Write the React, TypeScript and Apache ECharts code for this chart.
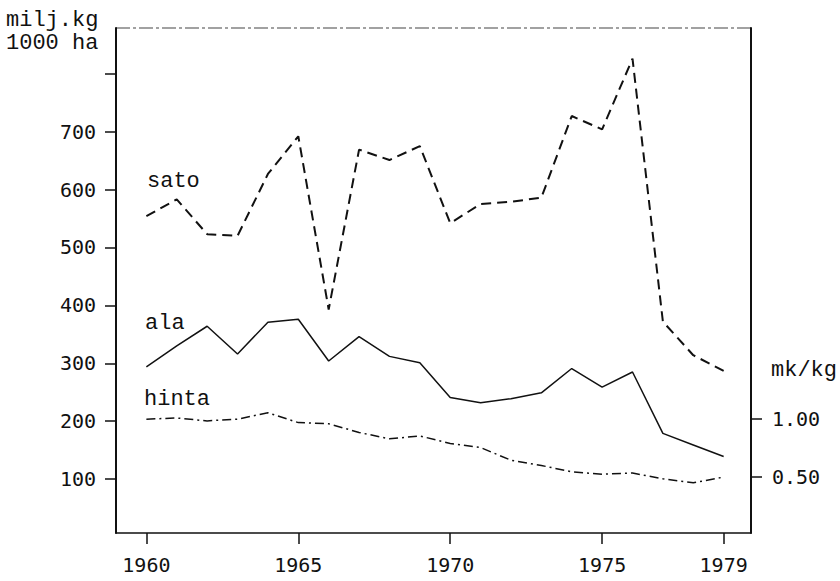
import React, { useEffect, useRef } from "react";
import * as echarts from "echarts";

const years = [1960, 1961, 1962, 1963, 1964, 1965, 1966, 1967, 1968, 1969, 1970, 1971, 1972, 1973, 1974, 1975, 1976, 1977, 1978, 1979];
const sato = [554, 583, 523, 520, 627, 692, 393, 669, 651, 675, 542, 575, 579, 586, 727, 704, 826, 372, 314, 287];
const ala = [294, 330, 364, 316, 371, 376, 304, 346, 312, 301, 241, 232, 239, 249, 291, 259, 285, 179, 159, 139];
const hinta = [1.0, 1.01, 0.985, 1.0, 1.055, 0.97, 0.96, 0.885, 0.83, 0.855, 0.79, 0.755, 0.645, 0.6, 0.545, 0.525, 0.535, 0.485, 0.45, 0.5];

const xTicks = [1960, 1965, 1970, 1975, 1979];
const leftTicks = [100, 200, 300, 400, 500, 600, 700, 800];
const leftLabels = [100, 200, 300, 400, 500, 600, 700];
const rightTicks = [0.5, 1.0];

const MONO = "DejaVu Sans Mono";
const TXT = "Liberation Mono";

export default function App() {
  const ref = useRef<HTMLDivElement>(null);
  useEffect(() => {
    if (!ref.current) return;
    const chart = echarts.init(ref.current, null, { renderer: "svg" });
    const pair = (vals: number[]) => years.map((y, i) => [y, vals[i]]);
    const textStyle = { fontFamily: TXT, fontSize: 22, fill: "#111" };
    chart.setOption({
      animation: false,
      backgroundColor: "#fff",
      grid: { left: 116, right: 89, top: 28, bottom: 48, containLabel: false },
      xAxis: {
        type: "value",
        min: 1959,
        max: 1979.9,
        axisLine: { show: true, lineStyle: { color: "#111", width: 1.5 } },
        axisTick: { show: true, inside: false, length: 11, customValues: xTicks, lineStyle: { color: "#111", width: 1.5 } },
        axisLabel: { show: true, customValues: xTicks, margin: 22, fontFamily: MONO, fontSize: 20, color: "#111", formatter: (v: number) => String(v) },
        splitLine: { show: false },
      },
      yAxis: [
        {
          type: "value",
          position: "left",
          min: 7,
          max: 879,
          axisLine: { show: true, lineStyle: { color: "#111", width: 2 } },
          axisTick: { show: true, inside: false, length: 11, customValues: leftTicks, lineStyle: { color: "#111", width: 1.5 } },
          axisLabel: { show: true, customValues: leftLabels, margin: 20, fontFamily: MONO, fontSize: 20, color: "#111" },
          splitLine: { show: false },
        },
        {
          type: "value",
          position: "right",
          min: 0.017,
          max: 4.377,
          axisLine: { show: true, lineStyle: { color: "#111", width: 2 } },
          axisTick: { show: true, inside: false, length: 11, customValues: rightTicks, lineStyle: { color: "#111", width: 1.5 } },
          axisLabel: { show: true, customValues: rightTicks, margin: 21, fontFamily: MONO, fontSize: 20, color: "#111", formatter: (v: number) => v.toFixed(2) },
          splitLine: { show: false },
        },
      ],
      series: [
        {
          name: "sato",
          type: "line",
          data: pair(sato),
          symbol: "none",
          lineStyle: { color: "#111", width: 2, type: [10, 6] },
        },
        {
          name: "ala",
          type: "line",
          data: pair(ala),
          symbol: "none",
          lineStyle: { color: "#111", width: 1.5, type: "solid" },
        },
        {
          name: "hinta",
          type: "line",
          yAxisIndex: 1,
          data: pair(hinta),
          symbol: "none",
          lineStyle: { color: "#111", width: 1.5, type: [9, 4, 2, 4] },
        },
      ],
      graphic: [
        { type: "line", shape: { x1: 116, y1: 28, x2: 752, y2: 28 }, style: { stroke: "#444", lineWidth: 1.2, lineDash: [14, 3, 3, 3] } },
        { type: "text", left: 6, top: 9, style: { ...textStyle, text: "milj.kg" } },
        { type: "text", left: 6, top: 32, style: { ...textStyle, text: "1000 ha" } },
        { type: "text", left: 147, top: 170, style: { ...textStyle, text: "sato" } },
        { type: "text", left: 145, top: 312, style: { ...textStyle, text: "ala" } },
        { type: "text", left: 144, top: 388, style: { ...textStyle, text: "hinta" } },
        { type: "text", left: 771, top: 359, style: { ...textStyle, text: "mk/kg" } },
      ],
    });
    return () => chart.dispose();
  }, []);
  return <div ref={ref} style={{ position: "absolute", left: 0, top: 0, width: 840, height: 581 }} />;
}
